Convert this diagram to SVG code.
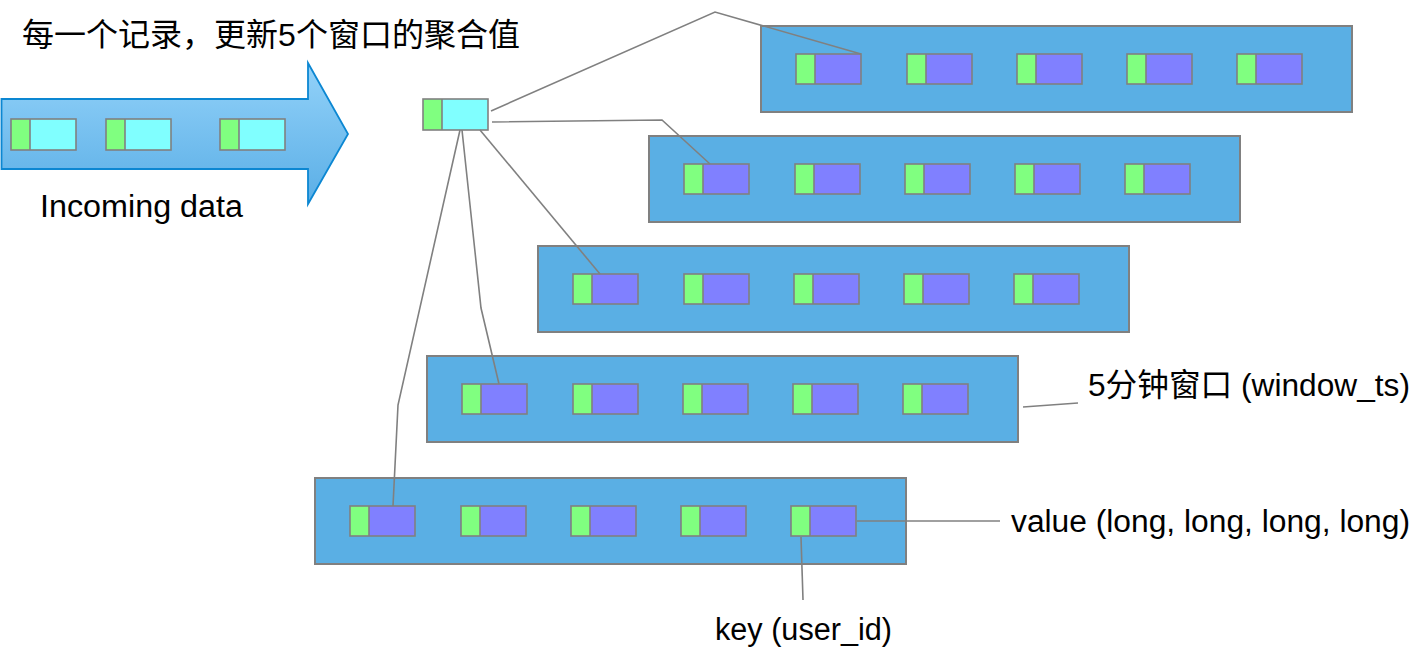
<svg xmlns="http://www.w3.org/2000/svg" xmlns:xlink="http://www.w3.org/1999/xlink" width="1424" height="658" viewBox="0 0 1424 658">
<style>
  .win { fill: #5AAFE4; stroke: #808080; stroke-width: 2; }
  .conn { fill: none; stroke: #808080; stroke-width: 1.6; }
  .lbl { font-family: "Liberation Sans", Arial, "Noto Sans CJK SC", sans-serif; font-size: 31px; fill: #000; }
  .cjk { font-family: "Liberation Sans", "Noto Sans CJK SC", sans-serif; font-size: 32px; fill: #000; }
</style>
<defs>
  <linearGradient id="arrowGrad" x1="0" y1="0" x2="0" y2="1">
    <stop offset="0" stop-color="#93D2F9"/>
    <stop offset="1" stop-color="#5AAEE6"/>
  </linearGradient>
  <g id="kv">
    <rect x="0" y="0" width="19" height="30" fill="#80FF80"/>
    <rect x="19" y="0" width="46" height="30" fill="#8080FF"/>
    <line x1="19" y1="0" x2="19" y2="30" stroke="#808080" stroke-width="1.6"/>
    <rect x="0" y="0" width="65" height="30" fill="none" stroke="#808080" stroke-width="1.6"/>
  </g>
  <g id="rec">
    <rect x="0" y="0" width="19" height="31" fill="#80FF80"/>
    <rect x="19" y="0" width="46" height="31" fill="#80FFFF"/>
    <line x1="19" y1="0" x2="19" y2="31" stroke="#808080" stroke-width="1.6"/>
    <rect x="0" y="0" width="65" height="31" fill="none" stroke="#808080" stroke-width="1.6"/>
  </g>
</defs>

<g id="incoming">
  <polygon points="1.5,99 308,99 308,63 348,134 308,204 308,169 1.5,169" fill="url(#arrowGrad)" stroke="#0C87D2" stroke-width="1.8"/>
  <use xlink:href="#rec" x="11" y="119"/>
  <use xlink:href="#rec" x="106" y="119"/>
  <use xlink:href="#rec" x="220" y="119"/>
  <text class="lbl" x="40" y="217" textLength="203" lengthAdjust="spacingAndGlyphs">Incoming data</text>
</g>

<g id="title">
  <text class="cjk" x="22" y="46" textLength="498" lengthAdjust="spacingAndGlyphs">每一个记录，更新5个窗口的聚合值</text>
</g>

<g id="source-record">
  <use xlink:href="#rec" x="423" y="99"/>
</g>

<g id="window1">
  <rect class="win" x="761" y="26" width="591" height="86"/>
  <use xlink:href="#kv" x="796" y="54"/>
  <use xlink:href="#kv" x="907" y="54"/>
  <use xlink:href="#kv" x="1017" y="54"/>
  <use xlink:href="#kv" x="1127" y="54"/>
  <use xlink:href="#kv" x="1237" y="54"/>
</g>
<g id="window2">
  <rect class="win" x="649" y="136" width="591" height="86"/>
  <use xlink:href="#kv" x="684" y="164"/>
  <use xlink:href="#kv" x="795" y="164"/>
  <use xlink:href="#kv" x="905" y="164"/>
  <use xlink:href="#kv" x="1015" y="164"/>
  <use xlink:href="#kv" x="1125" y="164"/>
</g>
<g id="window3">
  <rect class="win" x="538" y="246" width="591" height="86"/>
  <use xlink:href="#kv" x="573" y="274"/>
  <use xlink:href="#kv" x="684" y="274"/>
  <use xlink:href="#kv" x="794" y="274"/>
  <use xlink:href="#kv" x="904" y="274"/>
  <use xlink:href="#kv" x="1014" y="274"/>
</g>
<g id="window4">
  <rect class="win" x="427" y="356" width="591" height="86"/>
  <use xlink:href="#kv" x="462" y="384"/>
  <use xlink:href="#kv" x="573" y="384"/>
  <use xlink:href="#kv" x="683" y="384"/>
  <use xlink:href="#kv" x="793" y="384"/>
  <use xlink:href="#kv" x="903" y="384"/>
</g>
<g id="window5">
  <rect class="win" x="315" y="478" width="591" height="86"/>
  <use xlink:href="#kv" x="350" y="506"/>
  <use xlink:href="#kv" x="461" y="506"/>
  <use xlink:href="#kv" x="571" y="506"/>
  <use xlink:href="#kv" x="681" y="506"/>
  <use xlink:href="#kv" x="791" y="506"/>
</g>

<g id="label-window">
  <text class="cjk" x="1088" y="396" textLength="322" lengthAdjust="spacingAndGlyphs">5分钟窗口 (window_ts)</text>
</g>
<g id="label-value">
  <text class="lbl" x="1011" y="532" textLength="399" lengthAdjust="spacingAndGlyphs">value (long, long, long, long)</text>
</g>
<g id="label-key">
  <text class="lbl" x="715" y="640" textLength="177" lengthAdjust="spacingAndGlyphs">key (user_id)</text>
</g>

<g id="connectors">
  <polyline class="conn" points="491,111 715,12 861,54"/>
  <polyline class="conn" points="492,122 662,120 710,164"/>
  <polyline class="conn" points="480,130 600,274"/>
  <polyline class="conn" points="462,130 481,308 499,384"/>
  <polyline class="conn" points="460,130 398,405 393,506"/>
  <polyline class="conn" points="1023,407 1078,403"/>
  <polyline class="conn" points="857,521 1000,521"/>
  <polyline class="conn" points="801,537 803,600"/>
</g>
</svg>
